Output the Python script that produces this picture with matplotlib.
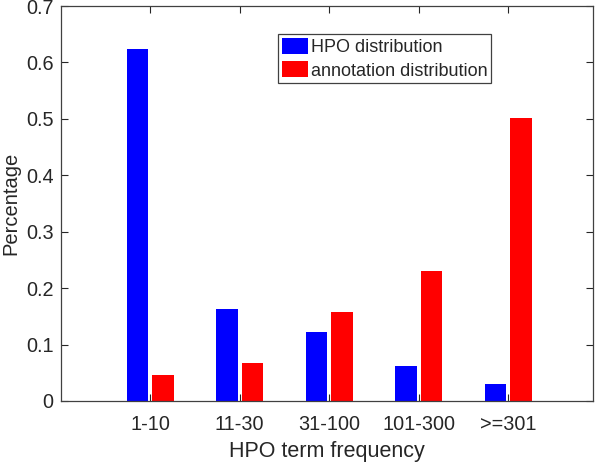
import matplotlib
matplotlib.use("Agg")
import matplotlib.pyplot as plt
import numpy as np

categories = ["1-10", "11-30", "31-100", "101-300", ">=301"]
hpo_dist = [0.623, 0.1625, 0.122, 0.0615, 0.030]
annot_dist = [0.0455, 0.0668, 0.157, 0.2304, 0.501]

plt.rcParams['font.family'] = ['Liberation Sans', 'DejaVu Sans']
fig = plt.figure(figsize=(5.95, 4.63), dpi=100)
ax = fig.add_axes([0.102, 0.134, 0.895, 0.853])

x = np.arange(1, len(categories) + 1)
w = 0.24
off = 0.143
ax.bar(x - off, hpo_dist, w, color='#0000ff', label='HPO distribution')
ax.bar(x + off, annot_dist, w, color='#ff0000', label='annotation distribution')

ax.set_xlim(0, 5.95)
ax.set_ylim(0, 0.7)
ax.set_xticks(x)
ax.set_xticklabels(categories)
ax.set_yticks(np.arange(0, 0.71, 0.1))
ax.set_yticklabels(["0", "0.1", "0.2", "0.3", "0.4", "0.5", "0.6", "0.7"])
ax.tick_params(direction='in', top=True, right=True, labelsize=14.3,
               colors='#262626', length=5, width=0.8, pad=10)
ax.tick_params(axis='y', pad=5)
for s in ax.spines.values():
    s.set_color('#404040')
    s.set_linewidth(0.9)
ax.set_xlabel("HPO term frequency", fontsize=15.5, color='#262626', labelpad=5)
ax.set_ylabel("Percentage", fontsize=14.5, color='#262626', labelpad=4)

leg = fig.legend(loc='upper left', bbox_to_anchor=(278/595, 1 - 34/463),
                 fontsize=13, frameon=True, fancybox=False, framealpha=1,
                 edgecolor='#404040', handlelength=1.44, handleheight=1.0,
                 handletextpad=0.2, labelspacing=0.3, borderpad=0.2,
                 borderaxespad=0)
leg.get_frame().set_linewidth(0.9)
for t in leg.get_texts():
    t.set_color('#262626')

fig.savefig("out.png", dpi=100)
